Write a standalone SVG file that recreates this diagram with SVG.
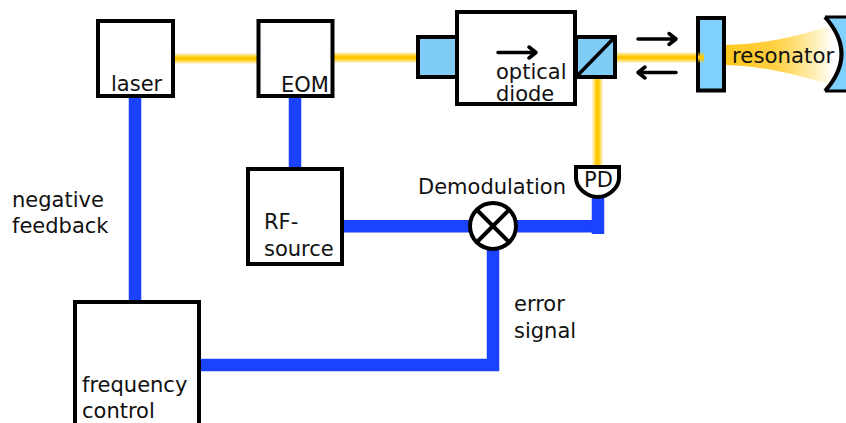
<svg xmlns="http://www.w3.org/2000/svg" width="846" height="423" viewBox="0 0 846 423">
<style>
text{font-family:"DejaVu Sans",sans-serif;font-size:21px;fill:#111}
.box{fill:#fff;stroke:#000;stroke-width:4}
.blue{fill:#7fcdf7;stroke:#000;stroke-width:4}
.wire{fill:none;stroke:#1a42ff;stroke-width:12.500}
.arr{fill:none;stroke:#000;stroke-width:3.5;stroke-linecap:round;stroke-linejoin:round}
</style>
<defs>
<linearGradient id="bh" x1="0" y1="0" x2="0" y2="1"><stop offset="0" stop-color="#ffc800" stop-opacity="0"/><stop offset=".42" stop-color="#ffc800"/><stop offset=".58" stop-color="#ffc800"/><stop offset="1" stop-color="#ffc800" stop-opacity="0"/></linearGradient>
<linearGradient id="bv" x1="0" y1="0" x2="1" y2="0"><stop offset="0" stop-color="#ffc800" stop-opacity="0"/><stop offset=".42" stop-color="#ffc800"/><stop offset=".58" stop-color="#ffc800"/><stop offset="1" stop-color="#ffc800" stop-opacity="0"/></linearGradient>
<linearGradient id="cav" x1="726" y1="0" x2="830" y2="0" gradientUnits="userSpaceOnUse"><stop offset="0" stop-color="#ffc81e"/><stop offset=".45" stop-color="#ffcf40"/><stop offset="1" stop-color="#ffc800" stop-opacity=".04"/></linearGradient>
</defs>
<g id="connectors">
<rect x="173" y="52.500" width="85" height="12" fill="url(#bh)"/>
<rect x="333" y="51.500" width="85" height="12" fill="url(#bh)"/>
<rect x="614" y="51.500" width="90" height="12" fill="url(#bh)"/>
<rect x="591.500" y="78" width="12" height="90" fill="url(#bv)"/>
<path d="M726 45C765 44 800 36 832 25V85C800 76 765 66 726 65Z" fill="url(#cav)"/>
<path class="wire" d="M135 96V302"/>
<path class="wire" d="M295 96V168"/>
<path class="wire" d="M343 226.300H598"/>
<path class="wire" d="M598 234V194"/>
<path class="wire" d="M493 250V365H200"/>
</g>
<g id="laser"><rect class="box" x="98" y="21" width="75" height="75"/><text x="111" y="91">laser</text></g>
<g id="eom"><rect class="box" x="258.500" y="21" width="74" height="75"/><text x="281" y="92">EOM</text></g>
<g id="optical-diode">
<rect class="blue" x="418" y="37" width="40" height="40"/>
<rect class="blue" x="576" y="37" width="39" height="40"/>
<path d="M577 76L614 38" stroke="#000" stroke-width="3.5"/>
<rect class="box" x="457" y="12" width="118" height="92"/>
<path class="arr" d="M498 52.500H536M529 47L536 52.500L529 58"/>
<text x="496" y="79">optical</text><text x="496" y="100.500">diode</text>
</g>
<g id="beam-arrows">
<path class="arr" d="M638 39H676M669 33.500L676 39L669 44.500"/>
<path class="arr" d="M676 72.500H638M645 67L638 72.500L645 78"/>
</g>
<g id="mirror-1"><rect x="698" y="18" width="26" height="72.500" fill="#7fd0ff" stroke="#000" stroke-width="4"/><rect x="698" y="51.500" width="6" height="12" fill="url(#bh)"/></g>
<g id="resonator"><text x="732" y="63" style="font-size:21.300px">resonator</text></g>
<g id="mirror-2"><path d="M826 17H846V91H826Q858 54 826 17Z" fill="#7fd0ff"/><path d="M825 17H846M825 91H846" stroke="#000" stroke-width="3"/><path d="M825 17Q858 54 825 91" fill="none" stroke="#000" stroke-width="4"/></g>
<g id="pd"><path d="M576 167H619V178C619 188 608 197 598 197C587 197 576 188 576 178Z" fill="#fff" stroke="#000" stroke-width="4"/><text x="584" y="187">PD</text></g>
<g id="rf-source"><rect class="box" x="248" y="169" width="94" height="95"/><text x="264" y="229">RF-</text><text x="264" y="256">source</text></g>
<g id="demodulation"><circle cx="493" cy="226" r="23" fill="#fff" stroke="#000" stroke-width="4"/><path d="M477 210L509 242M509 210L477 242" stroke="#000" stroke-width="4"/><text x="418" y="194">Demodulation</text></g>
<g id="frequency-control"><rect class="box" x="75" y="302" width="124" height="125"/><text x="82" y="392">frequency</text><text x="82" y="418">control</text></g>
<text x="12" y="207">negative</text><text x="12" y="233">feedback</text>
<text x="514" y="311">error</text><text x="514" y="338">signal</text>
</svg>
